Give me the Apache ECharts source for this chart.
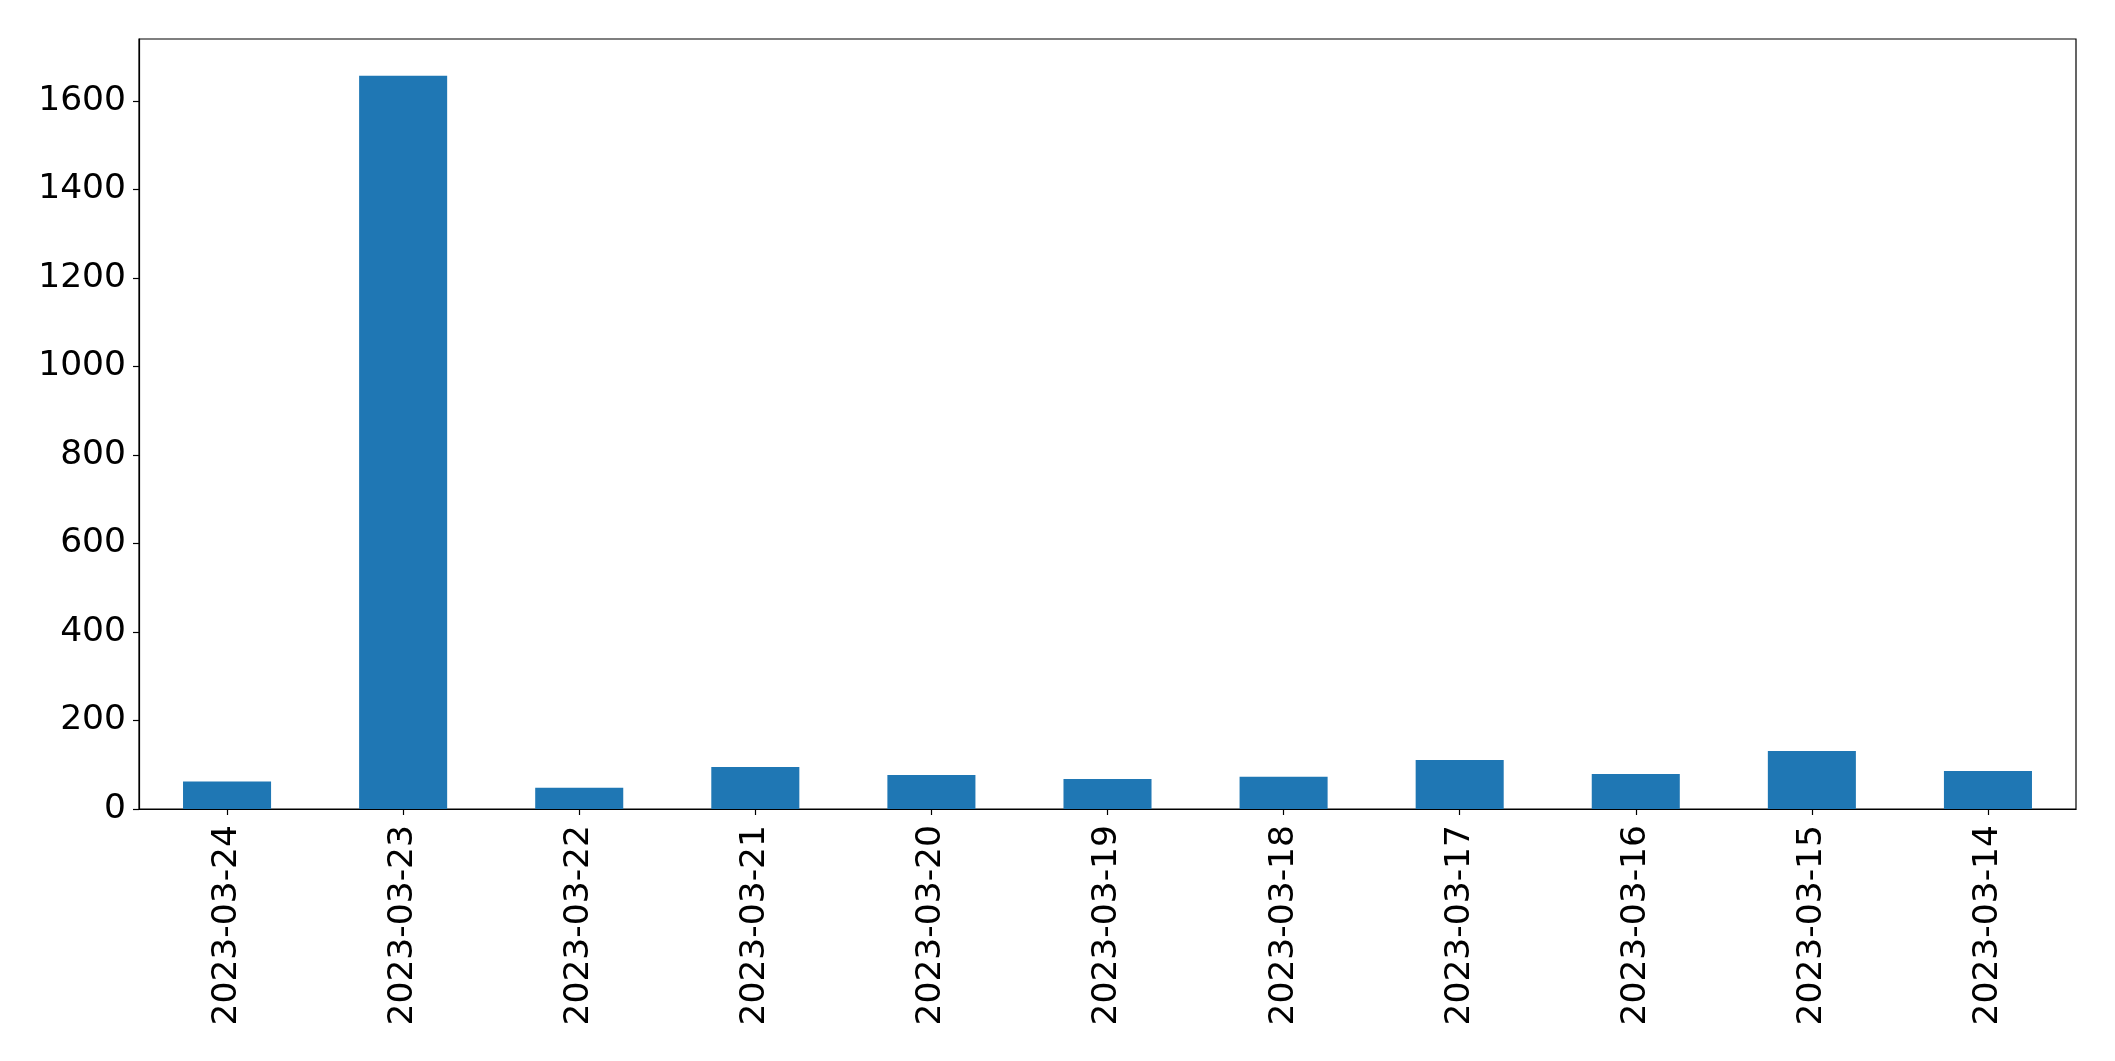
<!DOCTYPE html>
<html>
<head>
<meta charset="utf-8">
<script src="https://cdn.jsdelivr.net/npm/echarts@6/dist/echarts.min.js"></script>
<style>html,body{margin:0;padding:0;background:#fff;}#c{width:2115px;height:1061px;}</style>
</head>
<body>
<div id="c"></div>
<script>
const categories = ["2023-03-24","2023-03-23","2023-03-22","2023-03-21","2023-03-20","2023-03-19","2023-03-18","2023-03-17","2023-03-16","2023-03-15","2023-03-14"];
const values = [62, 1657, 48, 95, 77, 68, 73, 111, 79, 131, 86];
const yTicks = [0, 200, 400, 600, 800, 1000, 1200, 1400, 1600];

const chart = echarts.init(document.getElementById('c'), null, {renderer: 'canvas'});
const font = 'DejaVu Sans';
chart.setOption({
  animation: false,
  backgroundColor: '#ffffff',
  grid: {left: 139, right: 39, top: 39, bottom: 252, show: true, borderColor: '#000', borderWidth: 1.2, backgroundColor: 'transparent'},
  xAxis: {
    type: 'category',
    data: categories,
    axisLine: {show: true, lineStyle: {color: '#000', width: 1.2}},
    axisTick: {show: true, alignWithLabel: true, length: 6, lineStyle: {color: '#000', width: 1.2}},
    axisLabel: {rotate: 90, color: '#000', fontSize: 34.5, fontFamily: font, margin: 16, interval: 0},
    splitLine: {show: false}
  },
  yAxis: {
    type: 'value',
    min: 0,
    max: 1740,
    interval: 200,
    axisLine: {show: true, lineStyle: {color: '#000', width: 1.2}},
    axisTick: {show: true, length: 6, customValues: yTicks, lineStyle: {color: '#000', width: 1.2}},
    axisLabel: {color: '#000', fontSize: 34.5, fontFamily: font, margin: 13, customValues: yTicks,
      padding: [6, 0, 0, 0], formatter: v => String(v)},
    splitLine: {show: false}
  },
  series: [{
    type: 'bar',
    data: values,
    barWidth: '50%',
    itemStyle: {color: '#1f77b4'}
  }]
});
</script>
</body>
</html>
